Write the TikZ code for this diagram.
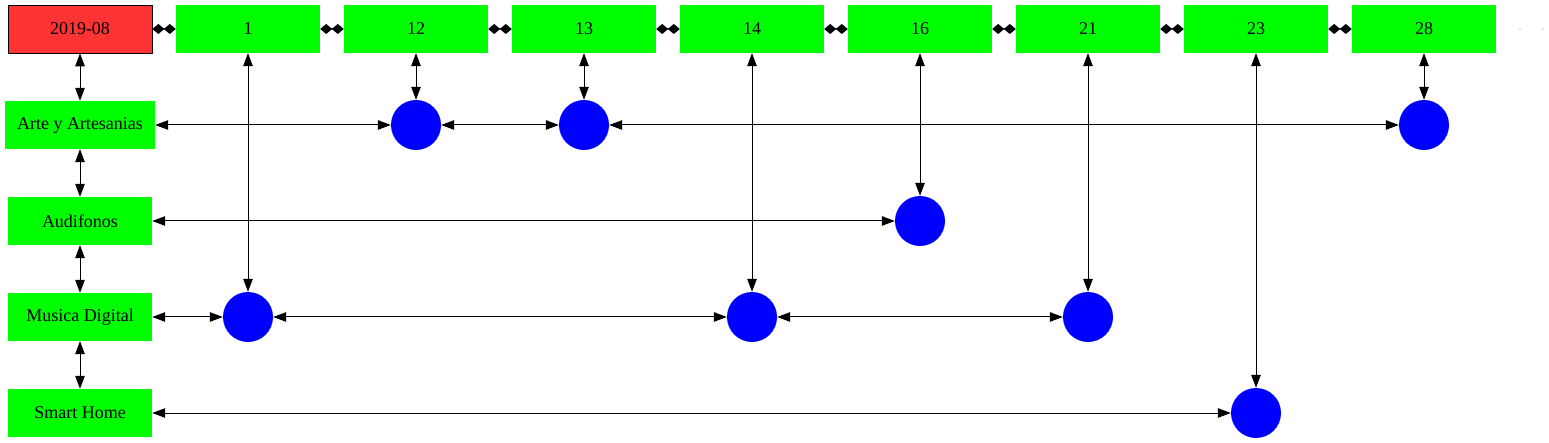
\documentclass[tikz,border=0pt]{standalone}
\usepackage{fontspec}
\setmainfont{Liberation Serif}
\usetikzlibrary{arrows.meta}
\definecolor{gv}{HTML}{00FF00}
\definecolor{rd}{HTML}{FF3333}
\begin{document}
\begin{tikzpicture}[x=1pt,y=-1pt,
  box/.style={fill=gv,minimum width=144pt,minimum height=48pt,inner sep=0pt,font=\fontsize{18}{20}\selectfont},
  datebox/.style={box,fill=rd,draw=black,line width=0.8pt},
  dot/.style={circle,fill=blue,minimum size=50pt,inner sep=0pt},
  pt/.style={circle,fill=gray,minimum size=1.2pt,inner sep=0pt},
  dd/.style={{Diamond[length=12pt,width=10pt]}-{Diamond[length=12pt,width=10pt]},line width=1pt},
  tt/.style={{Triangle[length=13pt,width=9.5pt]}-{Triangle[length=13pt,width=9.5pt]},line width=1pt}]
\useasboundingbox (0,0) rectangle (1549,443);
\node[datebox] (d) at (80,29) {2019-08};
\node[box] (t1) at (248,29) {1};
\node[box] (t12) at (416,29) {12};
\node[box] (t13) at (584,29) {13};
\node[box] (t14) at (752,29) {14};
\node[box] (t16) at (920,29) {16};
\node[box] (t21) at (1088,29) {21};
\node[box] (t23) at (1256,29) {23};
\node[box] (t28) at (1424,29) {28};
\node[pt] (p1) at (1520,29) {};
\node[pt] (p2) at (1543,29) {};
\node[box,minimum width=150pt] (arte) at (80,125) {Arte y Artesanias};
\node[box] (aud) at (80,221) {Audifonos};
\node[box] (mus) at (80,317) {Musica Digital};
\node[box] (sh) at (80,413) {Smart Home};
\node[dot] (c12) at (416,125) {};
\node[dot] (c13) at (584,125) {};
\node[dot] (c28) at (1424,125) {};
\node[dot] (c16) at (920,221) {};
\node[dot] (c1) at (248,317) {};
\node[dot] (c14) at (752,317) {};
\node[dot] (c21) at (1088,317) {};
\node[dot] (c23) at (1256,413) {};
\draw[dd] (d) -- (t1);
\draw[dd] (t1) -- (t12);
\draw[dd] (t12) -- (t13);
\draw[dd] (t13) -- (t14);
\draw[dd] (t14) -- (t16);
\draw[dd] (t16) -- (t21);
\draw[dd] (t21) -- (t23);
\draw[dd] (t23) -- (t28);
\draw[tt] (d) -- (arte);
\draw[tt] (arte) -- (aud);
\draw[tt] (aud) -- (mus);
\draw[tt] (mus) -- (sh);
\draw[tt] (t1) -- (c1);
\draw[tt] (t12) -- (c12);
\draw[tt] (t13) -- (c13);
\draw[tt] (t14) -- (c14);
\draw[tt] (t16) -- (c16);
\draw[tt] (t21) -- (c21);
\draw[tt] (t23) -- (c23);
\draw[tt] (t28) -- (c28);
\draw[tt] (arte) -- (c12);
\draw[tt] (c12) -- (c13);
\draw[tt] (c13) -- (c28);
\draw[tt] (aud) -- (c16);
\draw[tt] (mus) -- (c1);
\draw[tt] (c1) -- (c14);
\draw[tt] (c14) -- (c21);
\draw[tt] (sh) -- (c23);
\end{tikzpicture}
\end{document}
